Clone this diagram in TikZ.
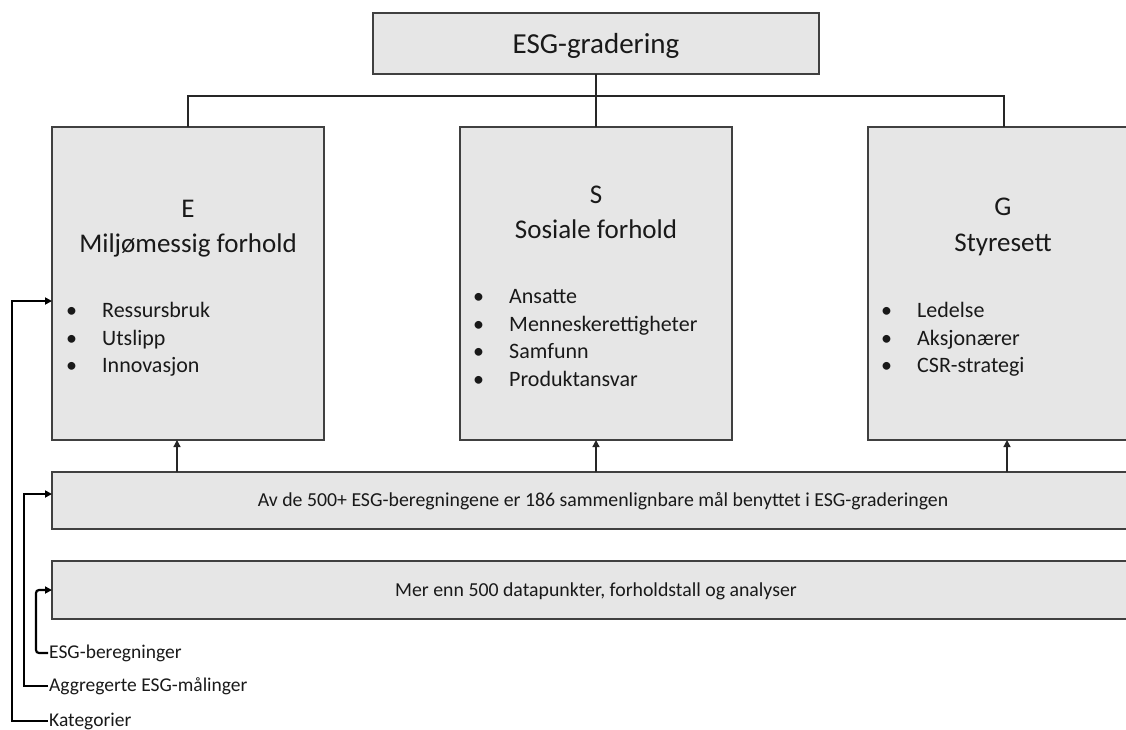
\documentclass[tikz,border=0pt]{standalone}
\usepackage{fontspec}
\setmainfont{Carlito}
\usetikzlibrary{arrows.meta}
\definecolor{boxfill}{HTML}{E6E6E6}
\definecolor{boxline}{HTML}{404040}
\definecolor{conn}{HTML}{262626}
\begin{document}
\begin{tikzpicture}[x=1pt,y=-1pt,
  box/.style={rectangle,draw=boxline,fill=boxfill,line width=1.3pt,inner sep=0pt,outer sep=0pt,anchor=north west},
  ttl/.style={inner sep=0pt,anchor=base,font=\fontsize{29}{34}\selectfont,text=black!90},
  head/.style={inner sep=0pt,anchor=base,font=\fontsize{27}{32}\selectfont,text=black!90},
  blt/.style={inner sep=0pt,anchor=base west,font=\fontsize{22}{26}\selectfont,text=black!90},
  bandtxt/.style={inner sep=0pt,anchor=base,font=\fontsize{19.8}{23}\selectfont,text=black!90},
  lab/.style={inner sep=1pt,anchor=west,font=\fontsize{19.5}{22}\selectfont,text=black!90},
  tree/.style={draw=conn,line width=1.2pt},
  uparrow/.style={draw=conn,line width=1.3pt,-{Triangle[length=7pt,width=7pt]}},
  bracket/.style={draw=black,line width=2.2pt,-{Triangle[length=7pt,width=7pt]}}]
\useasboundingbox (0,0) rectangle (1126,729);
\clip (0,0) rectangle (1126,729);

% boxes
\node[box,minimum width=446,minimum height=61] (title) at (373,13) {};
\node[box,minimum width=272,minimum height=313] (E) at (52,127) {};
\node[box,minimum width=272,minimum height=313] (S) at (460,127) {};
\node[box,minimum width=272,minimum height=313] (G) at (868,127) {};
\node[box,minimum width=1110,minimum height=57] (band1) at (52,472) {};
\node[box,minimum width=1110,minimum height=58] (band2) at (52,561) {};

% texts
\node[ttl] (ttxt) at (596,53) {ESG-gradering};

\node[head] (eh1) at (188,217) {E};
\node[head] (eh2) at (188,252) {Miljømessig forhold};
\node[blt] (eb1d) at (66,317) {\textbullet};
\node[blt] (eb1) at (102,317) {Ressursbruk};
\node[blt] (eb2d) at (66,345) {\textbullet};
\node[blt] (eb2) at (102,345) {Utslipp};
\node[blt] (eb3d) at (66,372) {\textbullet};
\node[blt] (eb3) at (102,372) {Innovasjon};

\node[head] (sh1) at (596,203) {S};
\node[head] (sh2) at (596,238) {Sosiale forhold};
\node[blt] (sb1d) at (473,303) {\textbullet};
\node[blt] (sb1) at (509,303) {Ansatte};
\node[blt] (sb2d) at (473,331) {\textbullet};
\node[blt] (sb2) at (509,331) {Menneskerettigheter};
\node[blt] (sb3d) at (473,358) {\textbullet};
\node[blt] (sb3) at (509,358) {Samfunn};
\node[blt] (sb4d) at (473,386) {\textbullet};
\node[blt] (sb4) at (509,386) {Produktansvar};

\node[head] (gh1) at (1003,215) {G};
\node[head] (gh2) at (1003,251) {Styresett};
\node[blt] (gb1d) at (881,317) {\textbullet};
\node[blt] (gb1) at (917,317) {Ledelse};
\node[blt] (gb2d) at (881,345) {\textbullet};
\node[blt] (gb2) at (917,345) {Aksjonærer};
\node[blt] (gb3d) at (881,372) {\textbullet};
\node[blt] (gb3) at (917,372) {CSR-strategi};

\node[bandtxt] (b1txt) at (603,506) {Av de 500+ ESG-beregningene er 186 sammenlignbare mål benyttet i ESG-graderingen};
\node[bandtxt] (b2txt) at (596,596) {Mer enn 500 datapunkter, forholdstall og analyser};

\node[lab] (lb1) at (48,653) {ESG-beregninger};
\node[lab] (lb2) at (48,686) {Aggregerte ESG-målinger};
\node[lab] (lb3) at (48,721) {Kategorier};

% tree connectors
\coordinate (hub) at (596,96);
\draw[tree] (title.south) -- (S.north);
\draw[tree] (E.north) |- (hub) -| (G.north);

% upward arrows
\draw[uparrow] (177,472) -- (E.south -| 177,0);
\draw[uparrow] (band1.north -| S.south) -- (S.south);
\draw[uparrow] (1007,472) -- (G.south -| 1007,0);

% brackets
\draw[bracket,rounded corners=3pt] (lb1.west) -- (36,653) -- (36,590) -- (band2.west |- 0,590);
\draw[bracket] (lb2.west) -- (24,686) -- (24,494) -- (band1.west |- 0,494);
\draw[bracket] (lb3.west) -- (12,721) -- (12,301) -- (E.west |- 0,301);
\end{tikzpicture}
\end{document}
